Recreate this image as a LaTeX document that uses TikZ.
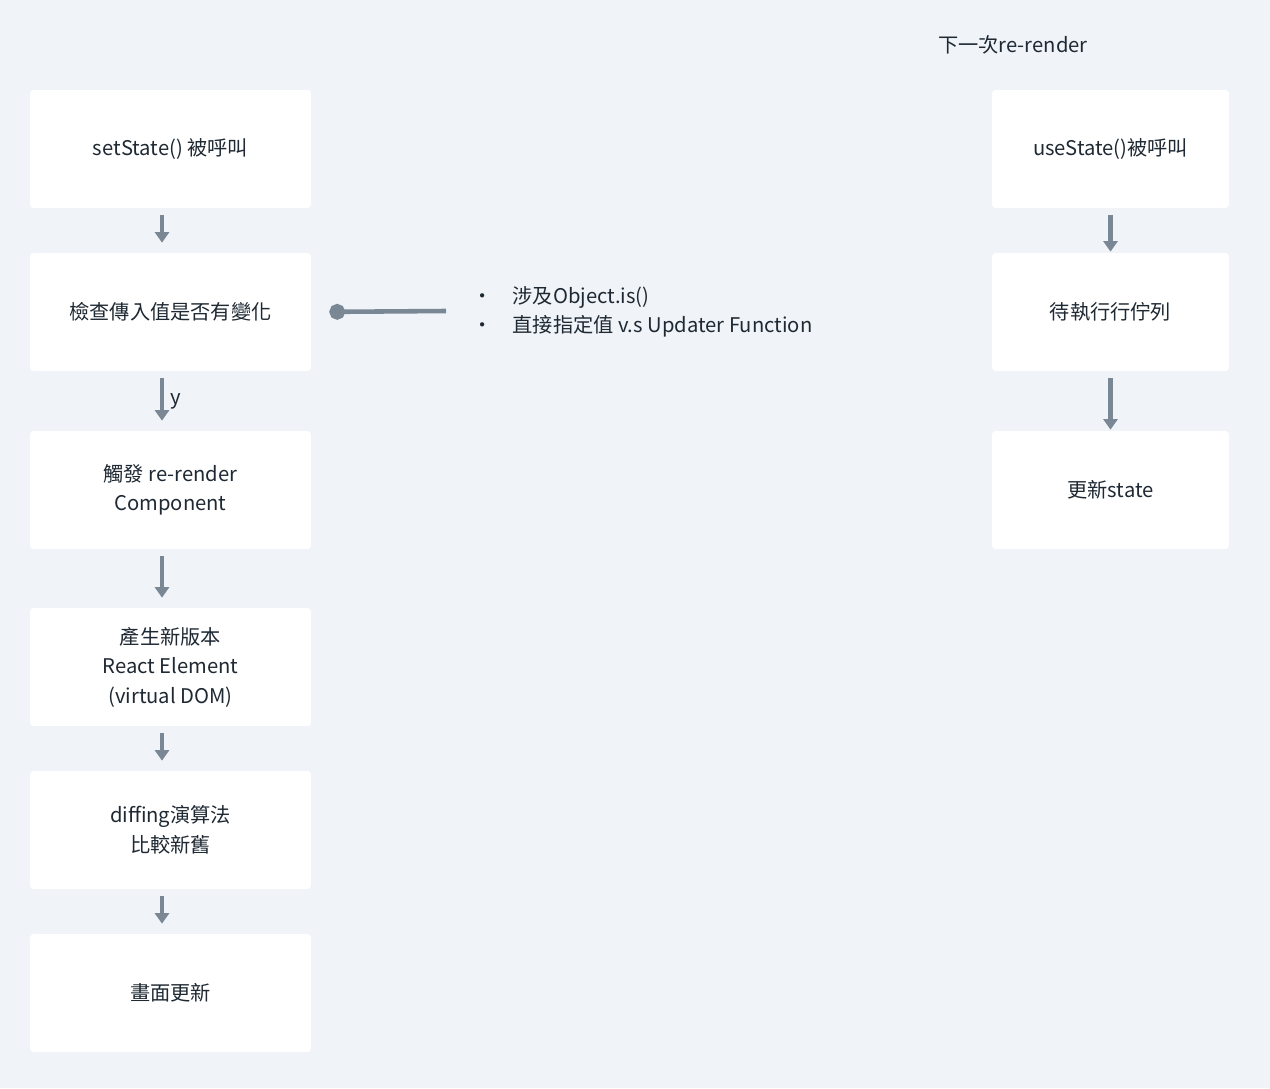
\documentclass[tikz,border=0pt]{standalone}
\usepackage{fontspec}
\setmainfont{Noto Sans CJK TC}
\usetikzlibrary{arrows.meta}

\definecolor{bgcol}{HTML}{F0F4F8}
\definecolor{arrcol}{HTML}{7A8794}
\definecolor{txtcol}{HTML}{1F2933}

\tikzset{
	stepbox/.style={fill=white, rounded corners=2pt, minimum width=5.62cm, minimum height=2.36cm,
		align=center, font=\fontsize{11.5}{16.8}\selectfont, text=txtcol, inner sep=0pt},
	rightbox/.style={stepbox, minimum width=4.74cm},
	flow/.style={draw=arrcol, line width=2.6pt, -{Triangle[length=6pt,width=8pt]}, shorten <=0.14cm, shorten >=0.2cm},
}

\begin{document}
\begin{tikzpicture}[x=0.02cm, y=-0.02cm]

% background %{{{2

	\fill[bgcol] (0,0) rectangle (1270,1088);
	\useasboundingbox (0,0) rectangle (1270,1088);

% left column %{{{2

	\node[stepbox] (set) at (170.5,149) {setState() 被呼叫};
	\node[stepbox] (check) at (170.5,312) {檢查傳入值是否有變化};
	\node[stepbox] (trigger) at (170.5,490) {觸發 re-render\\Component};
	\node[stepbox] (elem) at (170.5,667) {產生新版本\\React Element\\(virtual DOM)};
	\node[stepbox] (diff) at (170.5,830) {diffing演算法\\比較新舊};
	\node[stepbox] (paint) at (170.5,993) {畫面更新};

% right column %{{{2

	\node[text=txtcol, font=\fontsize{11.5}{16}\selectfont] (next) at (1013,45) {下一次re-render};

	\node[rightbox] (use) at (1110.5,149) {useState()被呼叫};
	\node[rightbox] (queue) at (1110.5,312) {待執行行佇列};
	\node[rightbox] (update) at (1110.5,490) {更新state};

% arrows %{{{2

	\draw[flow] ([xshift=-0.17cm]set.south) -- ([xshift=-0.17cm]check.north);
	\draw[flow] ([xshift=-0.17cm]check.south) -- node[right, text=txtcol, font=\fontsize{11.5}{16}\selectfont] {y} ([xshift=-0.17cm]trigger.north);
	\draw[flow] ([xshift=-0.17cm]trigger.south) -- ([xshift=-0.17cm]elem.north);
	\draw[flow] ([xshift=-0.17cm]elem.south) -- ([xshift=-0.17cm]diff.north);
	\draw[flow] ([xshift=-0.17cm]diff.south) -- ([xshift=-0.17cm]paint.north);

	\draw[flow, shorten >=0.02cm] (use) -- (queue);
	\draw[flow, shorten >=0.02cm] (queue) -- (update);

% note %{{{2

	\coordinate (noteend) at (446,311);
	\draw[draw=arrcol, line width=2.6pt, {Circle[length=9pt]}-, shorten <=0.36cm] (check.east) -- (noteend);

	\node[anchor=west, align=left, text=txtcol, font=\fontsize{11.5}{16.4}\selectfont] (note) at (466,312)
		{•\quad 涉及Object.is()\\•\quad 直接指定值 v.s Updater Function};

\end{tikzpicture}
\end{document}
